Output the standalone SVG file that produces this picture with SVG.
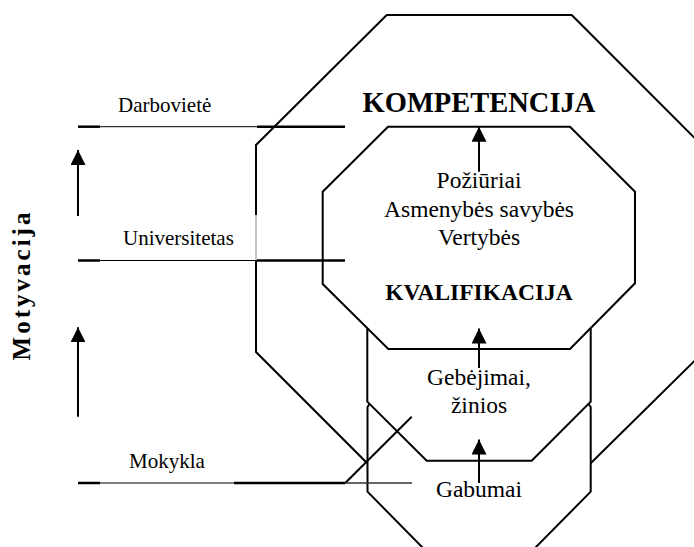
<svg xmlns="http://www.w3.org/2000/svg" width="694" height="547" viewBox="0 0 694 547">
<style>
.ln{fill:none;stroke:#000;stroke-width:2}
.thin{fill:none;stroke:#000;stroke-width:1}
.thick{fill:none;stroke:#000;stroke-width:2.5}
.t{font-family:"Liberation Serif","Times New Roman",serif;fill:#000}
.lab{font-size:21px}
.main{font-size:23.5px;text-anchor:middle}
.b{font-weight:bold}
.big{font-size:28.5px}
.arr{fill:none;stroke:#000;stroke-width:2;marker-end:url(#ah)}
</style>
<defs>
<marker id="ah" markerWidth="15" markerHeight="15" refX="15" refY="7.5" orient="auto" markerUnits="userSpaceOnUse">
<path d="M0,0 L15,7.5 L0,15 Z" fill="#000"/>
</marker>
</defs>
<rect width="694" height="547" fill="#fff"/>

<g id="outer">
<polyline class="ln" points="367,463 256,352 256,260"/>
<polyline class="ln" points="256,215 256,145 386.7,15 571.7,15 702.4,145.7 702.4,353 590.7,463.3"/>
<line x1="256" y1="215" x2="256" y2="260" stroke="#888" stroke-width="1"/>
</g>

<g id="inner">
<polygon class="ln" points="388,126.7 570,126.7 635,191.7 635,283.3 570,349 388.3,349 322.7,284 322.7,191.7"/>
</g>

<g id="gebejimai-shape">
<polyline class="ln" points="367.3,328 367.3,401.7 426.7,460.7 531.7,460.7 590.7,401.7 590.7,328.3"/>
</g>

<g id="gabumai-shape">
<polyline class="ln" points="369.5,404 367.5,407 367.5,491.7 423,548"/>
<polyline class="ln" points="588.5,404 590.7,407 590.7,491.7 535,548"/>
<line class="ln" x1="345" y1="483.3" x2="411.7" y2="416.7"/>
</g>

<g id="levels">
<line class="thick" x1="78" y1="126.7" x2="100" y2="126.7"/>
<line class="thin" x1="100" y1="126.7" x2="257" y2="126.7"/>
<line class="thick" x1="257" y1="126.7" x2="345" y2="126.7"/>
<line class="thick" x1="78" y1="260.5" x2="100" y2="260.5"/>
<line class="thin" x1="100" y1="260.5" x2="257" y2="260.5"/>
<line class="thick" x1="257" y1="260.5" x2="345" y2="260.5"/>
<line class="thick" x1="78" y1="483" x2="100" y2="483"/>
<line class="thin" x1="100" y1="483" x2="234" y2="483"/>
<line class="thick" x1="234" y1="483" x2="345" y2="483"/>
<line x1="345" y1="483" x2="412" y2="483" stroke="#333" stroke-width="1.6"/>
<text class="t lab" x="118" y="111.7">Darbovietė</text>
<text class="t lab" x="123" y="245">Universitetas</text>
<text class="t lab" x="129" y="468">Mokykla</text>
</g>

<g id="motyvacija">
<text class="t b" font-size="25" letter-spacing="3" text-anchor="middle" transform="translate(30,285) rotate(-90)">Motyvacija</text>
</g>

<g id="labels">
<text class="t main b big" x="479" y="111.7">KOMPETENCIJA</text>
<text class="t main" x="479" y="188">Požiūriai</text>
<text class="t main" x="479" y="216.5">Asmenybės savybės</text>
<text class="t main" x="479" y="245">Vertybės</text>
<text class="t main b" x="479" y="300">KVALIFIKACIJA</text>
<text class="t main" x="479" y="385">Gebėjimai,</text>
<text class="t main" x="479" y="413">žinios</text>
<text class="t main" x="479" y="496.7">Gabumai</text>
</g>

<g id="connectors">
<line class="arr" x1="479" y1="171.7" x2="479" y2="126.7"/>
<line class="arr" x1="479" y1="368" x2="479" y2="328.5"/>
<line class="arr" x1="479" y1="483" x2="479" y2="439.5"/>
<line class="arr" x1="78" y1="216" x2="78" y2="150"/>
<line class="arr" x1="78" y1="416.7" x2="78" y2="327.3"/>
</g>
</svg>
